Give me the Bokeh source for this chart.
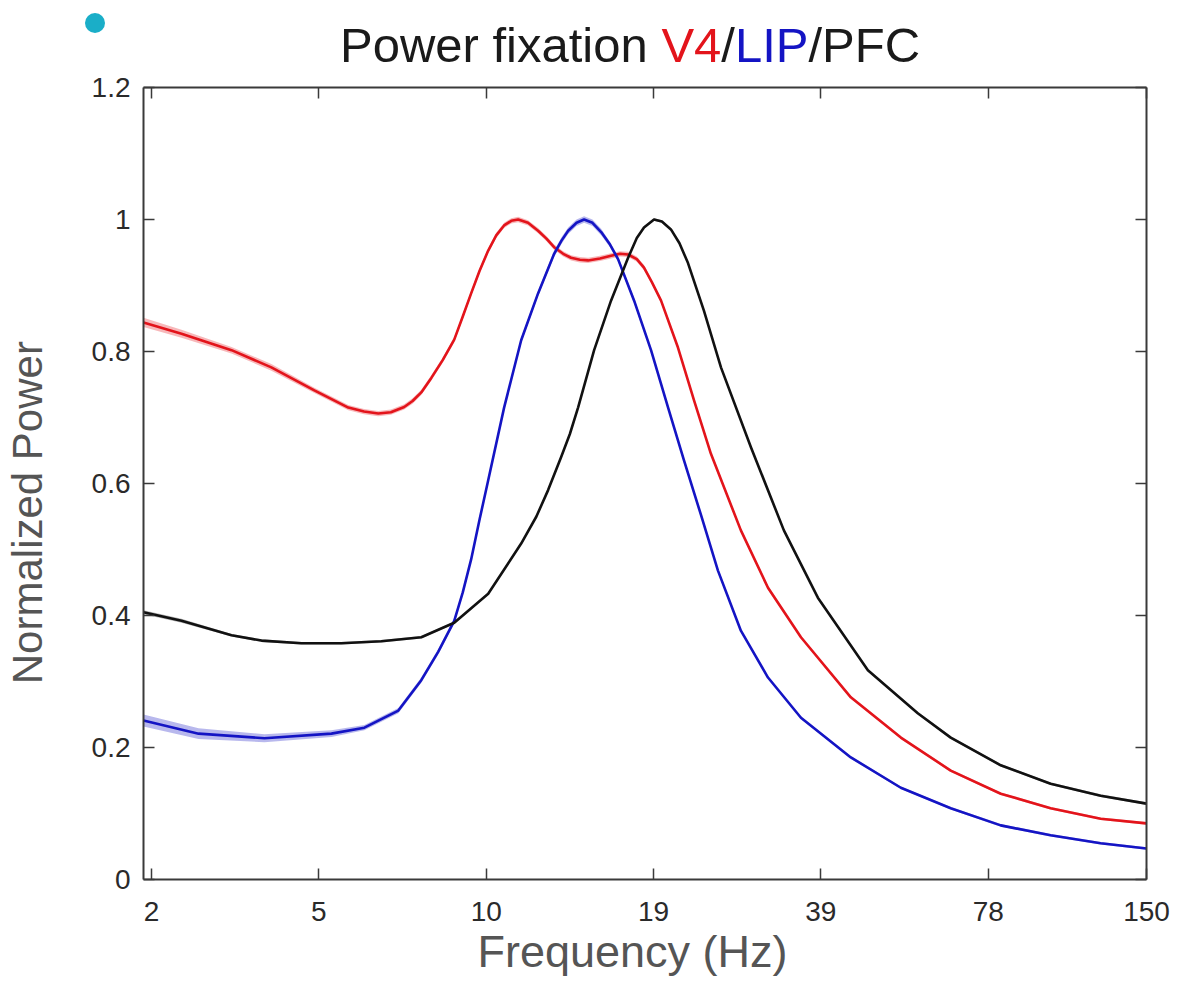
from bokeh.plotting import figure
from bokeh.layouts import column
from bokeh.models import Range1d, FixedTicker, LinearAxis, CustomJSTickFormatter, Div
from bokeh.embed import file_html
from bokeh.resources import INLINE

# ---------------- data (x in equally spaced axis units: tick index) ----------------
tick_pos = [0, 1, 2, 3, 4, 5, 5.946]
tick_labels = ["2", "5", "10", "19", "39", "78", "150"]
y_ticks = [0, 0.2, 0.4, 0.6, 0.8, 1.0, 1.2]

x_v4 = [-0.048, 0.179, 0.478, 0.716, 0.973, 1.176, 1.270, 1.355, 1.430, 1.510,
        1.560, 1.612, 1.672, 1.740, 1.809, 1.860, 1.910, 1.960, 2.012, 2.060,
        2.107, 2.150, 2.191, 2.250, 2.310, 2.360, 2.406, 2.460, 2.507, 2.560,
        2.609, 2.680, 2.746, 2.800, 2.848, 2.900, 2.943, 2.990, 3.045, 3.146,
        3.242, 3.343, 3.522, 3.684, 3.881, 4.179, 4.478, 4.776, 5.075, 5.373,
        5.672, 5.946]
v4 = [0.844, 0.827, 0.802, 0.776, 0.741, 0.715, 0.709, 0.706, 0.708, 0.716,
      0.725, 0.738, 0.760, 0.787, 0.818, 0.853, 0.888, 0.922, 0.953, 0.976,
      0.991, 0.998, 1.000, 0.995, 0.983, 0.971, 0.958, 0.948, 0.942, 0.939,
      0.938, 0.941, 0.945, 0.948, 0.947, 0.940, 0.927, 0.905, 0.877, 0.806,
      0.726, 0.645, 0.529, 0.442, 0.367, 0.276, 0.215, 0.165, 0.130, 0.108,
      0.092, 0.085]
sem_v4 = [0.007, 0.006, 0.005, 0.005, 0.004, 0.004, 0.004, 0.004, 0.004, 0.004,
          0.004, 0.004, 0.004, 0.004, 0.004, 0.004, 0.004, 0.004, 0.004, 0.004,
          0.004, 0.004, 0.004, 0.004, 0.004, 0.004, 0.004, 0.004, 0.004, 0.004,
          0.004, 0.004, 0.004, 0.004, 0.004, 0.004, 0.004, 0.003, 0.003, 0.003,
          0.003, 0.003, 0.003, 0.003, 0.002, 0.002, 0.002, 0.002, 0.002, 0.002,
          0.002, 0.002]

x_lip = [-0.048, 0.281, 0.675, 1.075, 1.272, 1.475, 1.612, 1.713, 1.809, 1.860,
         1.910, 1.960, 2.012, 2.107, 2.209, 2.310, 2.406, 2.450, 2.490, 2.540,
         2.585, 2.635, 2.687, 2.740, 2.788, 2.884, 2.985, 3.087, 3.182, 3.284,
         3.385, 3.522, 3.684, 3.881, 4.179, 4.478, 4.776, 5.075, 5.373, 5.672,
         5.946]
lip = [0.241, 0.221, 0.214, 0.221, 0.230, 0.256, 0.302, 0.345, 0.392, 0.435,
       0.485, 0.545, 0.605, 0.715, 0.817, 0.888, 0.948, 0.968, 0.983, 0.995,
       1.000, 0.995, 0.981, 0.962, 0.940, 0.877, 0.802, 0.715, 0.635, 0.552,
       0.468, 0.377, 0.306, 0.245, 0.185, 0.139, 0.108, 0.082, 0.067, 0.055,
       0.047]
sem_lip = [0.009, 0.008, 0.006, 0.005, 0.004, 0.004, 0.004, 0.004, 0.004, 0.004,
           0.004, 0.004, 0.004, 0.004, 0.004, 0.004, 0.005, 0.005, 0.005, 0.005,
           0.005, 0.005, 0.005, 0.004, 0.004, 0.004, 0.003, 0.003, 0.003, 0.003,
           0.003, 0.002, 0.002, 0.002, 0.002, 0.002, 0.002, 0.002, 0.002, 0.002,
           0.002]

x_pfc = [-0.048, 0.179, 0.478, 0.657, 0.896, 1.134, 1.373, 1.612, 1.809, 2.012,
         2.209, 2.300, 2.370, 2.448, 2.500, 2.549, 2.645, 2.746, 2.848, 2.900,
         2.943, 3.003, 3.050, 3.104, 3.155, 3.206, 3.301, 3.403, 3.582, 3.779,
         3.982, 4.281, 4.579, 4.776, 5.075, 5.373, 5.672, 5.946]
pfc = [0.405, 0.392, 0.370, 0.362, 0.358, 0.358, 0.361, 0.367, 0.389, 0.433,
       0.509, 0.550, 0.590, 0.640, 0.675, 0.715, 0.802, 0.877, 0.942, 0.972,
       0.988, 1.000, 0.997, 0.985, 0.964, 0.934, 0.862, 0.776, 0.655, 0.529,
       0.427, 0.317, 0.252, 0.215, 0.173, 0.145, 0.127, 0.115]
sem_pfc = [0.003, 0.003, 0.002, 0.002, 0.002, 0.002, 0.002, 0.002, 0.002, 0.002,
           0.002, 0.002, 0.002, 0.002, 0.002, 0.002, 0.002, 0.002, 0.002, 0.002,
           0.002, 0.002, 0.002, 0.002, 0.002, 0.002, 0.002, 0.002, 0.002, 0.002,
           0.002, 0.002, 0.002, 0.002, 0.002, 0.002, 0.002, 0.002]

title_parts = ["Power fixation ", "V4", "/", "LIP", "/PFC"]

for a, b, c in [(x_v4, v4, sem_v4), (x_lip, lip, sem_lip), (x_pfc, pfc, sem_pfc)]:
    assert len(a) == len(b) == len(c)

RED = "#e3141b"
BLUE = "#1414c4"
BLACK = "#111111"
AXIS = "#3a3a3a"
FONT = "Liberation Sans"

W = 1171
TOP_H = 62          # height of the title strip
MAIN_TOP = 25       # border above the plot frame (room for the "1.2" label)

# ---------------- title strip (HTML, multi-coloured) ----------------
title_colors = ["#1a1a1a", RED, "#1a1a1a", BLUE, "#1a1a1a"]
spans = "".join(f'<span style="color:{c}">{txt.replace(" ", "&nbsp;")}</span>'
                for txt, c in zip(title_parts, title_colors))
title_html = (
    f'<div style="position:relative;width:{W}px;height:{TOP_H}px;margin:0;padding:0;'
    'overflow:visible;">'
    '<div style="position:absolute;left:85px;top:13px;width:20px;height:20px;'
    'border-radius:50%;background:#1aaec8;"></div>'
    f'<div style="position:absolute;left:340px;top:21px;font-family:\'{FONT}\';'
    'font-size:49px;line-height:49px;white-space:nowrap;">'
    f'{spans}</div></div>'
)
t = Div(text=title_html, width=W, height=TOP_H, margin=(0, 0, 0, 0))

# ---------------- main plot ----------------
p = figure(width=W, height=MAIN_TOP + 792 + 106, output_backend="svg",
           toolbar_location=None,
           x_range=Range1d(-0.048, 5.946), y_range=Range1d(0, 1.2),
           min_border_left=142, min_border_right=25, min_border_top=MAIN_TOP,
           min_border_bottom=106, margin=(0, 0, 0, 0))
p.outline_line_color = None
p.grid.visible = False

xfmt = CustomJSTickFormatter(args=dict(pos=tick_pos, labels=tick_labels), code="""
const i = pos.findIndex(v => Math.abs(v - tick) < 1e-6);
return i >= 0 ? labels[i] : '';
""")
yfmt = CustomJSTickFormatter(code="return tick.toFixed(1).replace(/\\.0$/, '');")


def style_axis(ax):
    ax.axis_line_color = AXIS
    ax.axis_line_width = 2
    ax.major_tick_line_color = AXIS
    ax.major_tick_line_width = 1.5
    ax.major_tick_in = 11
    ax.major_tick_out = 0
    ax.minor_tick_line_color = None
    ax.major_label_text_font = FONT
    ax.major_label_text_font_size = "28px"
    ax.major_label_text_color = "#2a2a2a"
    ax.axis_label_text_font = FONT
    ax.axis_label_text_font_style = "normal"
    ax.axis_label_text_color = "#555555"


xa = p.xaxis[0]
xa.ticker = FixedTicker(ticks=tick_pos)
xa.formatter = xfmt
style_axis(xa)
xa.major_label_standoff = 22
xa.axis_label = "Frequency (Hz)\u00a0\u00a0"
xa.axis_label_text_font_size = "45px"
xa.axis_label_standoff = 2

ya = p.yaxis[0]
ya.ticker = FixedTicker(ticks=y_ticks)
ya.formatter = yfmt
style_axis(ya)
ya.major_label_standoff = 13
ya.axis_label = "Normalized Power\u00a0\u00a0\u00a0\u00a0\u00a0"
ya.axis_label_text_font_size = "42px"
ya.axis_label_standoff = 38

for loc, ticks in (("above", tick_pos), ("right", y_ticks)):
    ax = LinearAxis(ticker=FixedTicker(ticks=ticks),
                    formatter=CustomJSTickFormatter(code="return '';"))
    style_axis(ax)
    ax.major_label_standoff = 0
    ax.major_label_text_font_size = "0px"
    p.add_layout(ax, loc)

series = [(x_v4, v4, sem_v4, RED), (x_lip, lip, sem_lip, BLUE), (x_pfc, pfc, sem_pfc, BLACK)]
for xs, ys, es, c in series:
    lo = [y - e for y, e in zip(ys, es)]
    hi = [y + e for y, e in zip(ys, es)]
    p.varea(x=xs, y1=lo, y2=hi, fill_color=c, fill_alpha=0.3)
for xs, ys, es, c in series:
    p.line(xs, ys, line_color=c, line_width=2.6, line_join="round")

layout = column(t, p, spacing=0)
open("out.html", "w").write(file_html(layout, INLINE))
